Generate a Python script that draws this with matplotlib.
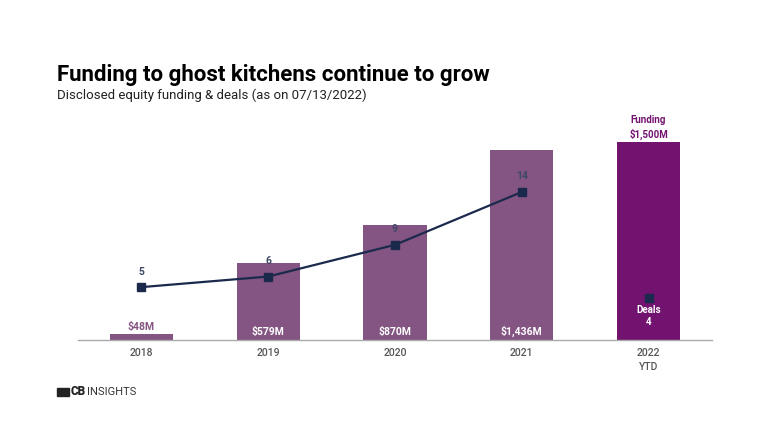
import matplotlib.pyplot as plt
from matplotlib.patches import Rectangle

plt.rcParams['font.family'] = ['Roboto', 'DejaVu Sans']

years = ["2018", "2019", "2020", "2021", "2022\nYTD"]
funding = [48, 579, 870, 1436, 1500]
funding_labels = ["$48M", "$579M", "$870M", "$1,436M", "$1,500M"]
deals = [5, 6, 9, 14, 4]

bar_color = "#845482"
last_color = "#72136f"
line_color = "#1b2a4c"
tick_color = "#555555"

fig = plt.figure(figsize=(7.68, 4.32), dpi=100)
ax = fig.add_axes([0.1016, 0.213, 0.8254, 0.509])
ax2 = ax.twinx()

x = list(range(len(years)))
colors = [bar_color] * (len(years) - 1) + [last_color]
ax.bar(x, funding, width=0.5, color=colors, zorder=1)
ax.set_xlim(-0.5, 4.5)
ax.set_ylim(0, 1663)
ax2.set_ylim(0, 20.8)

# funding labels
for i, (v, lab) in enumerate(zip(funding, funding_labels)):
    if i == 0:
        ax.text(i, v + 15, lab, ha='center', va='bottom', color=bar_color,
                fontsize=7.5, fontweight='bold')
    elif i == len(funding) - 1:
        ax.text(i, v + 15, "Funding\n" + lab, ha='center', va='bottom', color=last_color,
                fontsize=7, fontweight='bold', linespacing=1.4)
    else:
        ax.text(i, 25, lab, ha='center', va='bottom', color='white',
                fontsize=7.5, fontweight='bold')

# deals line
ax2.plot(x[:-1], deals[:-1], color=line_color, lw=1.6, marker='s', markersize=6, zorder=3)
ax2.plot(x[-1], deals[-1], color=line_color, marker='s', markersize=6, zorder=3)
for i, d in enumerate(deals[:-1]):
    ax2.text(i, d + 1.0, str(d), ha='center', va='bottom', color="#3d4866",
             fontsize=7.5, fontweight='semibold')
ax2.text(x[-1], deals[-1] - 0.7, "Deals\n" + str(deals[-1]), ha='center', va='top',
         color='white', fontsize=7, fontweight='bold', linespacing=1.3)

for a in (ax, ax2):
    for s in a.spines.values():
        s.set_visible(False)
    a.set_yticks([])
ax.spines['bottom'].set_visible(True)
ax.spines['bottom'].set_color("#aaaaaa")
ax.spines['bottom'].set_linewidth(1.0)
ax.set_xticks(x)
ax.set_xticklabels(years, fontsize=7.5, color=tick_color, fontweight='medium', linespacing=1.4)
ax.tick_params(axis='x', length=0, pad=6)

fig.text(0.074, 0.8, "Funding to ghost kitchens continue to grow", fontsize=16,
         fontweight='bold', color='black', va='bottom')
fig.text(0.074, 0.765, "Disclosed equity funding & deals (as on 07/13/2022)", fontsize=9.5,
         color='#222222', va='bottom')

# logo
fig.patches.append(Rectangle((0.074, 0.083), 0.016, 0.02, transform=fig.transFigure,
                             color='#222222'))
fig.text(0.092, 0.093, "CB", fontsize=8.5, fontweight='heavy', color='#222222', va='center')
fig.text(0.113, 0.093, "INSIGHTS", fontsize=8, fontweight='normal', color='#333333', va='center')

fig.savefig("out.png", dpi=100)
